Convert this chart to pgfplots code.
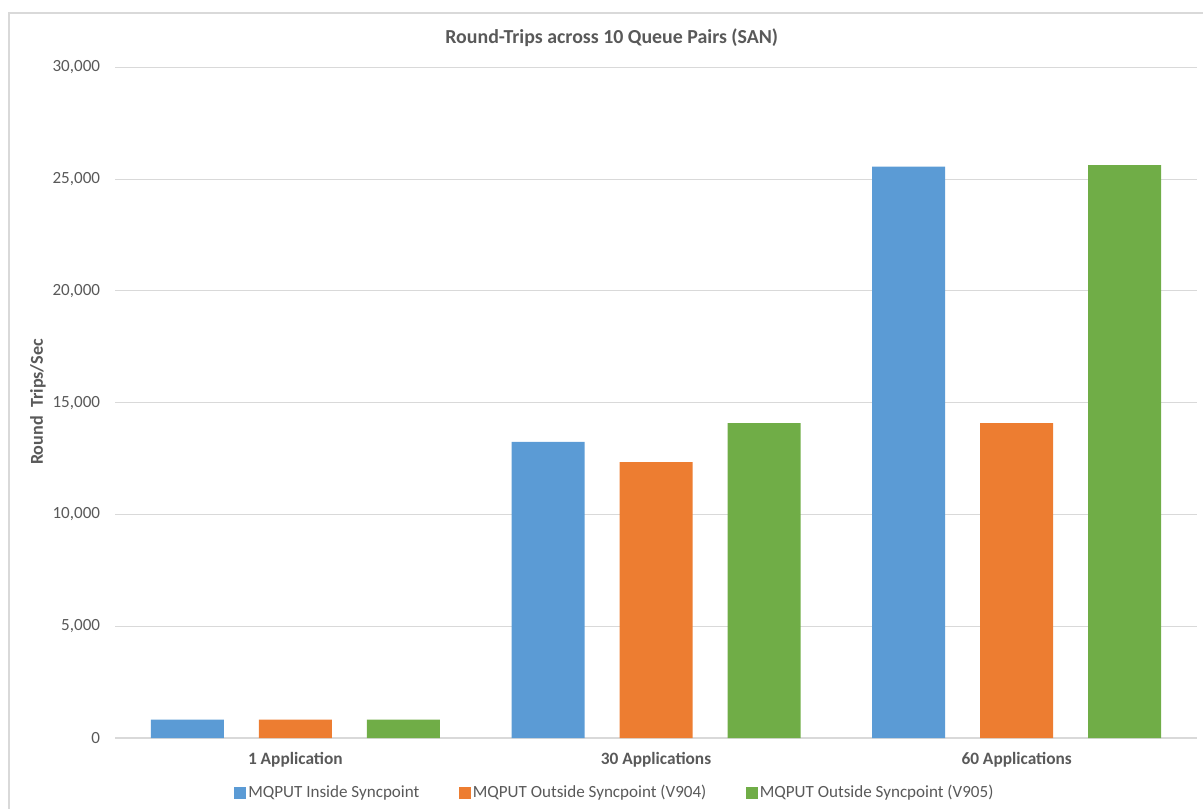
\documentclass[border=0pt]{standalone}
\usepackage{pgfplots}
\pgfplotsset{compat=1.18}
\usepackage{fontspec}
\setmainfont{Carlito}
\definecolor{cblue}{HTML}{5B9BD5}
\definecolor{corange}{HTML}{ED7D31}
\definecolor{cgreen}{HTML}{70AD47}
\definecolor{ctext}{HTML}{595959}
\definecolor{cgrid}{HTML}{D9D9D9}
\begin{document}
\begin{tikzpicture}
\useasboundingbox (0,0) rectangle (902.25pt,606pt);
\draw[cgrid, line width=1.2pt] (6.75pt,-20pt) rectangle (930pt,596.25pt);
\begin{axis}[
  at={(86.25pt,52.5pt)}, anchor=south west,
  scale only axis,
  width=811.5pt, height=503pt,
  xmin=-0.5, xmax=2.5,
  ymin=0, ymax=30000,
  xtick={0,1,2},
  xticklabels={1 Application,30 Applications,60 Applications},
  ytick={0,5000,...,30000},
  scaled y ticks=false,
  /pgf/number format/.cd, 1000 sep={,}, assume math mode=true, /pgfplots/.cd,
  major tick length=0pt,
  axis x line*=bottom, axis y line*=left,
  y axis line style={draw=none},
  x axis line style={draw=cgrid, line width=1pt, -},
  ymajorgrids,
  major grid style={cgrid, line width=0.9pt},
  tick label style={font=\fontsize{12.8}{14}\selectfont, text=ctext},
  yticklabel style={anchor=east, inner sep=0pt, xshift=-11pt},
  xticklabel style={anchor=center, inner sep=0pt, yshift=-16.5pt, font=\fontsize{13}{15}\selectfont\bfseries},
  legend style={at={(rel axis cs:0.462,-0.0816)}, anchor=center, draw=none, fill=none,
    font=\fontsize{12.8}{14}\selectfont, text=ctext, legend columns=3,
    /tikz/every even column/.append style={column sep=28pt},
    nodes={inner sep=1.5pt}},
  legend image code/.code={\fill[#1] (0pt,-4.5pt) rectangle (9pt,4.5pt);},
]
\addplot[ybar, bar width=54.75pt, bar shift=-81pt, fill=cblue, draw=none]
  coordinates {(0,820) (1,13250) (2,25560)};
\addplot[ybar, bar width=54.75pt, bar shift=0pt, fill=corange, draw=none]
  coordinates {(0,820) (1,12340) (2,14080)};
\addplot[ybar, bar width=54.75pt, bar shift=81pt, fill=cgreen, draw=none]
  coordinates {(0,820) (1,14080) (2,25620)};
\legend{MQPUT Inside Syncpoint, MQPUT Outside Syncpoint (V904), MQPUT Outside Syncpoint (V905)}
\end{axis}
\node[text=ctext, font=\fontsize{14.9}{17}\selectfont\bfseries] at (458.8pt,577.5pt) {Round-Trips across 10 Queue Pairs (SAN)};
\node[text=ctext, rotate=90, font=\fontsize{13.6}{15}\selectfont\bfseries] at (28.5pt,304.5pt) {Round\ \ Trips/Sec};
\end{tikzpicture}
\end{document}
